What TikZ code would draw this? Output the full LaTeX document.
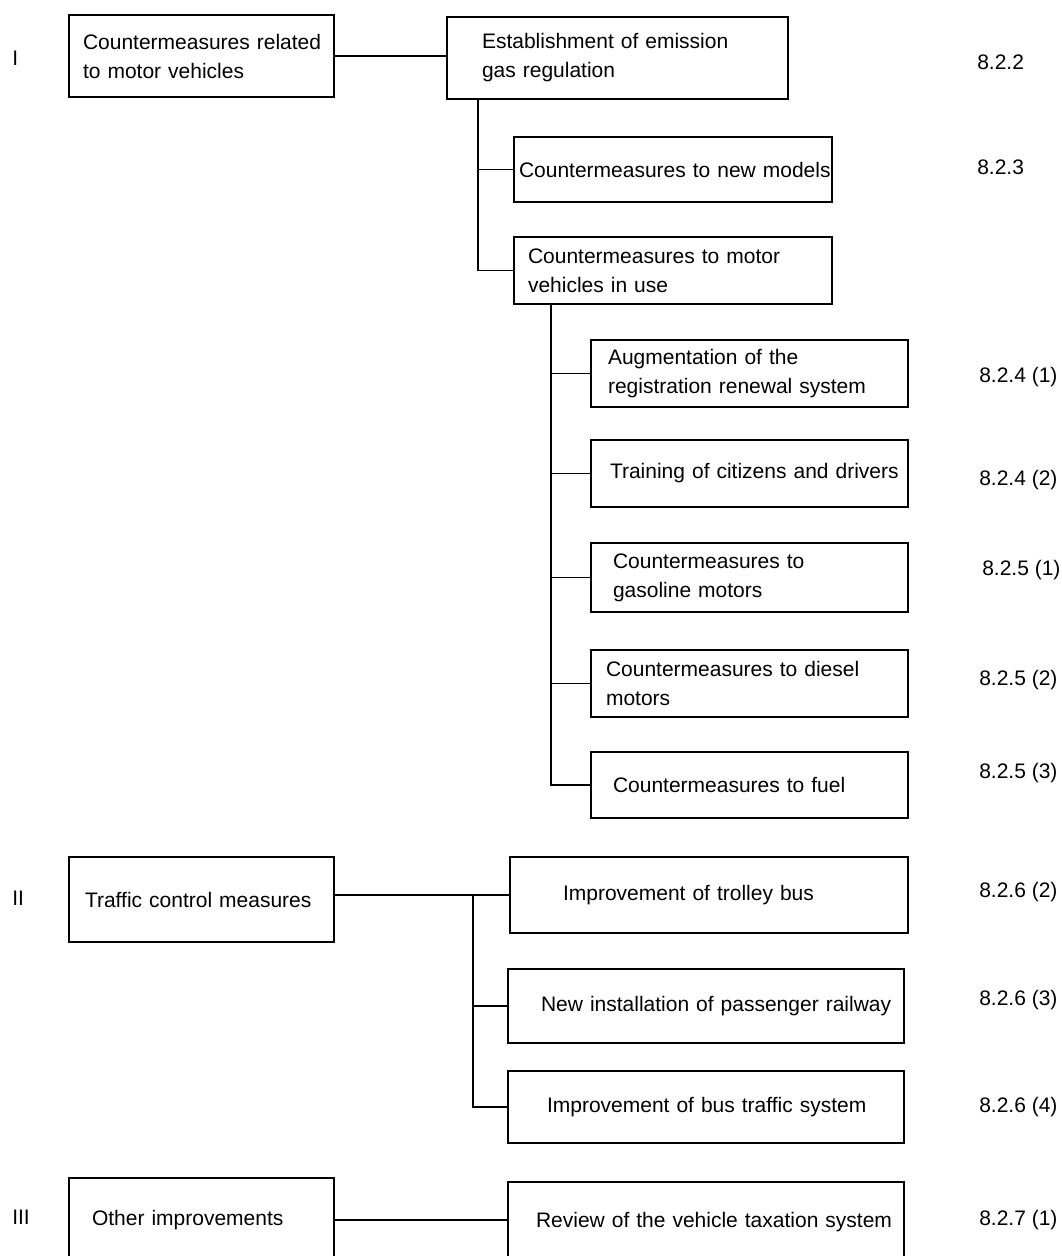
\documentclass[tikz,border=0pt]{standalone}
\usepackage{fontspec}
\setmainfont{Liberation Sans}
\newcommand\diagfont{\fontsize{15.75pt}{21.75pt}\selectfont}
\begin{document}
\begin{tikzpicture}[x=0.75pt,y=-0.75pt,
  bx/.style={draw, line width=1.2pt, rectangle, align=left, inner ysep=0pt, font=\diagfont},
  lbl/.style={anchor=west, inner sep=0pt, font=\diagfont},
  conn/.style={line width=1pt}]
\useasboundingbox (0,0) rectangle (1061,1256);
\clip (0,0) rectangle (1061,1256);

% Roman numerals
\node[lbl] (rI)   at (12,58)   {I};
\node[lbl] (rII)  at (12,898)  {II};
\node[lbl] (rIII) at (12,1217) {III};

% Group I
\node[bx, text width=177.75pt, inner xsep=10.5pt, minimum height=61.5pt] (A) at (201.5,56)
  {\mbox{Countermeasures related}\\\mbox{to motor vehicles}};
\node[bx, text width=203.25pt, inner xsep=26.25pt, minimum height=61.5pt] (B) at (617.5,58)
  {\mbox{Establishment of emission}\\\mbox{gas regulation}};
\node[bx, text width=231pt, inner xsep=3.75pt, minimum height=48.75pt] (C) at (673,169.5)
  {\mbox{Countermeasures to new models}};
\node[bx, text width=217.5pt, inner xsep=10.5pt, minimum height=50.25pt] (D) at (673,270.5)
  {\mbox{Countermeasures to motor}\\\mbox{vehicles in use}};
\node[bx, text width=212.25pt, inner xsep=12.75pt, minimum height=50.25pt] (E1) at (749.5,373.5)
  {\mbox{Augmentation of the}\\\mbox{registration renewal system}};
\node[bx, text width=209.25pt, inner xsep=14.25pt, minimum height=50.25pt] (E2) at (749.5,473.5)
  {\mbox{Training of citizens and drivers}};
\node[bx, text width=204.75pt, inner xsep=16.5pt, minimum height=51.75pt] (E3) at (749.5,577.5)
  {\mbox{Countermeasures to}\\\mbox{gasoline motors}};
\node[bx, text width=215.25pt, inner xsep=11.25pt, minimum height=50.25pt] (E4) at (749.5,683.5)
  {\mbox{Countermeasures to diesel}\\\mbox{motors}};
\node[bx, text width=204.75pt, inner xsep=16.5pt, minimum height=49.5pt] (E5) at (749.5,785)
  {\mbox{Countermeasures to fuel}};

% Group II
\node[bx, text width=174.75pt, inner xsep=12pt, minimum height=63.75pt] (F) at (201.5,899.5)
  {\mbox{Traffic control measures}};
\node[bx, text width=219pt, inner xsep=39.75pt, minimum height=57pt] (G1) at (709,895)
  {\mbox{Improvement of trolley bus}};
\node[bx, text width=247.5pt, inner xsep=24.75pt, minimum height=55.5pt] (G2) at (706,1006)
  {\mbox{New installation of passenger railway}};
\node[bx, text width=238.5pt, inner xsep=29.25pt, minimum height=54pt] (G3) at (706,1107)
  {\mbox{Improvement of bus traffic system}};

% Group III
\node[bx, text width=164.25pt, inner xsep=17.25pt, minimum height=63pt] (H) at (201.5,1220)
  {\mbox{Other improvements}};
\node[bx, text width=255pt, inner xsep=21pt, minimum height=60pt] (K) at (706,1222)
  {\mbox{Review of the vehicle taxation system}};

% Section references
\node[lbl] (s1)  at (977,62)   {8.2.2};
\node[lbl] (s2)  at (977,167)  {8.2.3};
\node[lbl] (s3)  at (979,377)  {8.2.4 (1)};
\node[lbl] (s4)  at (979,480)  {8.2.4 (2)};
\node[lbl] (s5)  at (982,570)  {8.2.5 (1)};
\node[lbl] (s6)  at (979,680)  {8.2.5 (2)};
\node[lbl] (s7)  at (979,773)  {8.2.5 (3)};
\node[lbl] (s8)  at (979,892)  {8.2.6 (2)};
\node[lbl] (s9)  at (979,1000) {8.2.6 (3)};
\node[lbl] (s10) at (979,1107) {8.2.6 (4)};
\node[lbl] (s11) at (979,1220) {8.2.7 (1)};

% Connectors
\coordinate (tB) at (478,99);
\coordinate (tD) at (551,304);
\coordinate (t3) at (473,895);

\draw[conn] (A.east) -- (A.east -| B.west);
\draw[conn] (tB) |- (D.west);
\draw[conn] (tB |- C.west) -- (C.west);

\draw[conn] (tD) |- (E5.west);
\draw[conn] (tD |- E1.west) -- (E1.west);
\draw[conn] (tD |- E2.west) -- (E2.west);
\draw[conn] (tD |- E3.west) -- (E3.west);
\draw[conn] (tD |- E4.west) -- (E4.west);

\draw[conn] (F.east |- G1.west) -- (G1.west);
\draw[conn] (t3) |- (G3.west);
\draw[conn] (t3 |- G2.west) -- (G2.west);

\draw[conn] (H.east) -- (H.east -| K.west);
\end{tikzpicture}
\end{document}
